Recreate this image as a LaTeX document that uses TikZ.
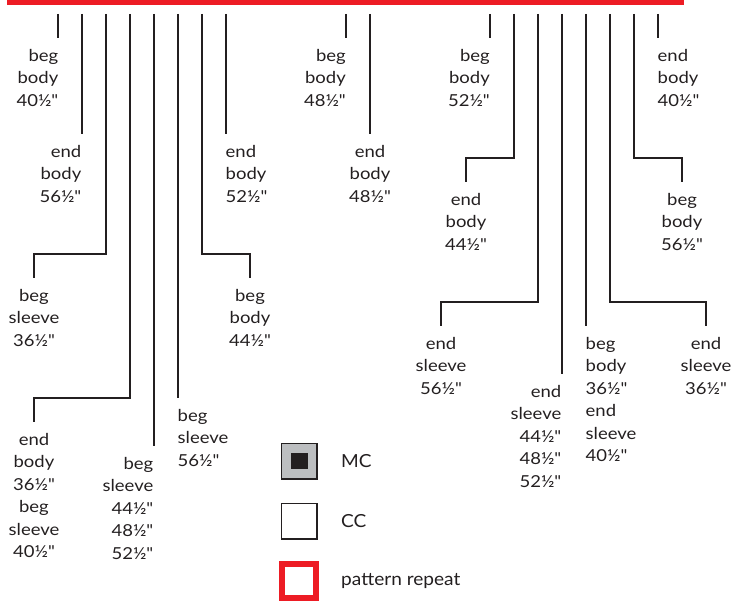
\documentclass[tikz,border=0pt]{standalone}
\usepackage{fontspec}
\newfontfamily\labfont{Lato}[FakeStretch=1.12]
\newfontfamily\legfont{Lato}[FakeStretch=1.06]
\usetikzlibrary{calc}
\definecolor{ink}{HTML}{231F20}
\definecolor{barred}{HTML}{ED1C24}
\definecolor{mcgray}{HTML}{BCBEC0}
\begin{document}
\begin{tikzpicture}[x=1pt,y=-1pt,
  conn/.style={draw=ink, line width=1.3pt},
  lbl/.style={inner sep=0pt, text=ink, font=\labfont\fontsize{16.5}{22.5}\selectfont},
  lr/.style={lbl, align=right, anchor=north east},
  lc/.style={lbl, align=center, anchor=north},
  ll/.style={lbl, align=left, anchor=north west},
  legtext/.style={inner sep=0pt, text=ink, anchor=west, font=\legfont\fontsize{18}{22.5}\selectfont}]
\useasboundingbox (0,0) rectangle (733,601);
% red bar
\node[fill=barred, minimum width=677pt, minimum height=5pt, inner sep=0pt, anchor=north west] (bar) at (7,0) {};
% top ends of connectors
\foreach \n/\x in {1/58,2/82,3/106,4/130,5/154,6/178,7/202,8/226,9/346,10/370,11/490,12/514,13/538,14/562,15/586,16/610,17/634,18/658}
  \coordinate (t\n) at (\x,14);
% labels
\node[lr] (l1) at (58.5,49) {beg\\body\\40½"};
\node[lr] (l2) at (81.5,145) {end\\body\\56½"};
\node[lc] (l3) at (34,289) {beg\\sleeve\\36½"};
\node[lc] (l4) at (34,433) {end\\body\\36½"\\beg\\sleeve\\40½"};
\node[lr] (l5) at (153.5,457) {beg\\sleeve\\44½"\\48½"\\52½"};
\node[ll] (l6) at (177.5,409) {beg\\sleeve\\56½"};
\node[lc] (l7) at (250,289) {beg\\body\\44½"};
\node[ll] (l8) at (225.5,145) {end\\body\\52½"};
\node[lr] (l9) at (346,49) {beg\\body\\48½"};
\node[lc] (l10) at (370,145) {end\\body\\48½"};
\node[lr] (l11) at (490,49) {beg\\body\\52½"};
\node[lc] (l12) at (466,193) {end\\body\\44½"};
\node[lc] (l13) at (441,337) {end\\sleeve\\56½"};
\node[lr] (l14) at (561.5,385) {end\\sleeve\\44½"\\48½"\\52½"};
\node[ll] (l15) at (585.5,337) {beg\\body\\36½"\\end\\sleeve\\40½"};
\node[lc] (l16) at (706,337) {end\\sleeve\\36½"};
\node[lc] (l17) at (682,193) {beg\\body\\56½"};
\node[ll] (l18) at (657.5,49) {end\\body\\40½"};
% straight connectors
\foreach \n in {1,2,5,6,8,9,10,11,14,15,18}
  \draw[conn, shorten >=11pt] (t\n) -- (t\n |- l\n.north);
% elbow connectors
\foreach \n in {3,4,7,12,13,16,17}
  \draw[conn] (t\n) |- ([yshift=35pt]l\n.north) -- ([yshift=11pt]l\n.north);
% legend
\node[draw=ink, line width=1.5pt, fill=mcgray, minimum size=35.5pt, inner sep=0pt] (mc) at (299.2,461) {};
\node[fill=ink, minimum width=17pt, minimum height=16pt, inner sep=0pt] (mcdot) at (mc.center) {};
\node[legtext] (mct) at (341,461) {MC};
\node[draw=ink, line width=1.5pt, fill=white, minimum size=35.5pt, inner sep=0pt] (cc) at (299.2,521) {};
\node[legtext] (cct) at (341,521) {CC};
\node[draw=barred, line width=6pt, minimum size=34pt, inner sep=0pt] (pr) at (299,581) {};
\node[legtext] (prt) at (341,581) {pattern repeat};
\end{tikzpicture}
\end{document}
